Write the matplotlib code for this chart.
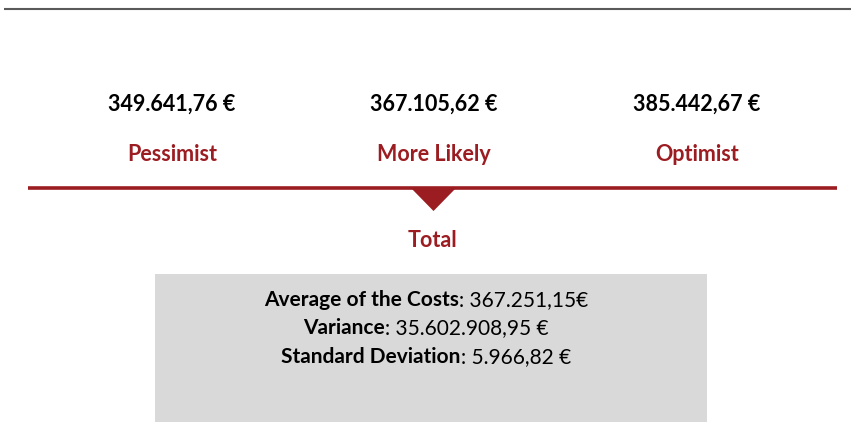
import matplotlib
matplotlib.use("Agg")
import matplotlib.pyplot as plt
from matplotlib.patches import Polygon, Rectangle

# ---- data ----
scenario_labels = ["Pessimist", "More Likely", "Optimist"]
scenario_values = ["349.641,76 €", "367.105,62 €", "385.442,67 €"]
total_label = "Total"
stat_names = ["Average of the Costs", "Variance", "Standard Deviation"]
stat_values = ["367.251,15€", "35.602.908,95 €", "5.966,82 €"]

# ---- style ----
RED = "#9B1C21"
GREY_BOX = "#D9D9D9"
FONT = "Lato"

W, H = 851, 427
fig = plt.figure(figsize=(W / 100, H / 100), dpi=100)
ax = fig.add_axes([0, 0, 1, 1])
ax.set_xlim(0, W)
ax.set_ylim(H, 0)
ax.axis("off")

# top thin grey rule
ax.plot([4, W], [9.5, 9.5], color="#5a5a5a", lw=1.5, solid_capstyle="butt")

# scenario columns
col_x = [172, 434, 697]
for x, v, lab in zip(col_x, scenario_values, scenario_labels):
    ax.text(x, 104, v, ha="center", va="center", fontsize=15.5,
            fontweight="bold", family=FONT, color="black")
    ax.text(x, 155, lab, ha="center", va="center", fontsize=15.5,
            fontweight="bold", family=FONT, color=RED)

# red rule with triangle pointer
ax.plot([28, 837], [188.5, 188.5], color=RED, lw=2.6, solid_capstyle="butt")
ax.add_patch(Polygon([[410, 188], [457, 188], [433.5, 212]], closed=True,
                     facecolor=RED, edgecolor="none"))
ax.text(432, 241, total_label, ha="center", va="center", fontsize=15.5,
        fontweight="bold", family=FONT, color=RED)

# grey stats box
ax.add_patch(Rectangle((155, 275), 552, 148, facecolor=GREY_BOX,
                       edgecolor="none"))

fig.canvas.draw()
renderer = fig.canvas.get_renderer()
box_cx = 426
line_y = [300, 328, 357]
for name, val, y in zip(stat_names, stat_values, line_y):
    t1 = ax.text(0, y, name, ha="left", va="center", fontsize=15,
                 fontweight="bold", family=FONT, color="black")
    t2 = ax.text(0, y, ": " + val, ha="left", va="center", fontsize=15,
                 family=FONT, color="black")
    w1 = t1.get_window_extent(renderer).width
    w2 = t2.get_window_extent(renderer).width
    x0 = box_cx - (w1 + w2) / 2
    t1.set_x(x0)
    t2.set_x(x0 + w1)

fig.savefig("out.png", dpi=100)
